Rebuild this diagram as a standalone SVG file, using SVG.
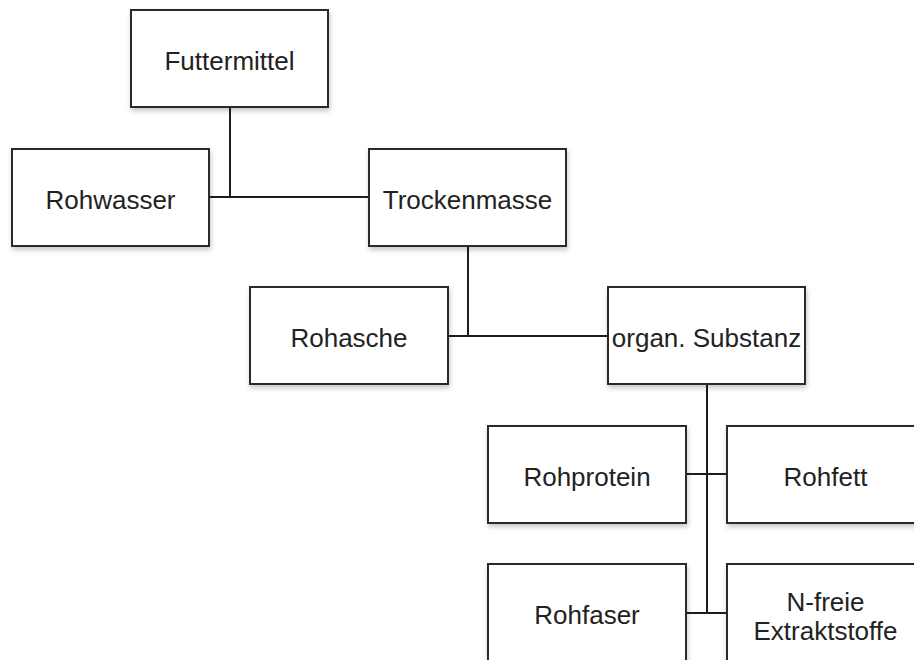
<svg xmlns="http://www.w3.org/2000/svg" width="914" height="660" viewBox="0 0 914 660">
<style>
.box{fill:#fff;stroke:#2b2b2b;stroke-width:2;filter:url(#sh)}
.t{font-family:"Liberation Sans",Arial,sans-serif;font-size:26px;fill:#222;text-anchor:middle}
.c{fill:none;stroke:#1e1e1e;stroke-width:2}
</style>
<defs>
<filter id="sh" x="-10%" y="-10%" width="125%" height="130%">
<feDropShadow dx="1" dy="3" stdDeviation="2.5" flood-color="#000" flood-opacity="0.22"/>
</filter>
</defs>
<rect width="914" height="660" fill="#fff"/>
<g id="connectors">
<path class="c" d="M230 107V197M209 197H369"/>
<path class="c" d="M468 246V336M448 336H608"/>
<path class="c" d="M707 384V613M686 474H727M686 613H727"/>
</g>
<g id="futtermittel"><rect class="box" x="131" y="10" width="197" height="97"/><text class="t" x="229.5" y="70">Futtermittel</text></g>
<g id="rohwasser"><rect class="box" x="12" y="149" width="197" height="97"/><text class="t" x="110.5" y="209">Rohwasser</text></g>
<g id="trockenmasse"><rect class="box" x="369" y="149" width="197" height="97"/><text class="t" x="467.5" y="209">Trockenmasse</text></g>
<g id="rohasche"><rect class="box" x="250" y="287" width="198" height="97"/><text class="t" x="349" y="347">Rohasche</text></g>
<g id="organ"><rect class="box" x="608" y="287" width="197" height="97"/><text class="t" x="706.5" y="347">organ. Substanz</text></g>
<g id="rohprotein"><rect class="box" x="488" y="426" width="198" height="97"/><text class="t" x="587" y="486">Rohprotein</text></g>
<g id="rohfett"><rect class="box" x="727" y="426" width="197" height="97"/><text class="t" x="825.5" y="486">Rohfett</text></g>
<g id="rohfaser"><rect class="box" x="488" y="564" width="198" height="100"/><text class="t" x="587" y="624">Rohfaser</text></g>
<g id="nfreie"><rect class="box" x="727" y="564" width="197" height="100"/><text class="t" x="825.5" y="611">N-freie</text><text class="t" x="825.5" y="640">Extraktstoffe</text></g>
</svg>
